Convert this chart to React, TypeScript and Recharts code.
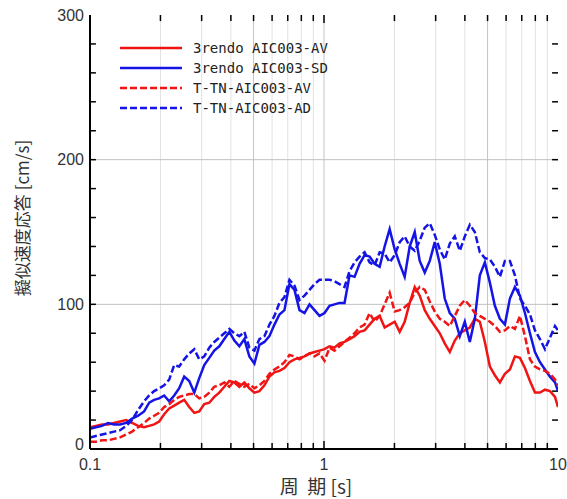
import { LineChart, Line, XAxis, YAxis, ReferenceLine } from "recharts";

const periods = [
  0.1, 0.106, 0.1126, 0.1194, 0.1267, 0.1345, 0.1427, 0.1513, 0.1606, 0.1703,
  0.179, 0.188, 0.1975, 0.2075, 0.218, 0.229, 0.2406, 0.2527, 0.2655, 0.279,
  0.293, 0.3078, 0.3234, 0.3397, 0.3569, 0.375, 0.394, 0.4139, 0.4348, 0.4567,
  0.4798, 0.5041, 0.5296, 0.5564, 0.5845, 0.614, 0.645, 0.6776, 0.7119, 0.7479,
  0.7857, 0.8254, 0.8671, 0.911, 0.957, 1.005, 1.056, 1.109, 1.165, 1.224,
  1.286, 1.351, 1.419, 1.491, 1.566, 1.646, 1.729, 1.816, 1.908, 2.005,
  2.106, 2.212, 2.324, 2.442, 2.565, 2.695, 2.831, 2.974, 3.124, 3.281,
  3.448, 3.622, 3.805, 3.997, 4.199, 4.411, 4.634, 4.869, 5.115, 5.373,
  5.645, 5.93, 6.23, 6.545, 6.876, 7.223, 7.588, 7.972, 8.375, 8.798,
  9.242, 9.71, 10,
];

// 3rendo AIC003-AV (red solid)
const rendoAV = [
  15, 16, 17, 17, 18, 19, 20, 18, 16, 15,
  16, 17, 19, 24, 28, 30, 32, 34, 29, 25,
  26, 31, 32, 36, 39, 43, 47, 46, 43, 46,
  42, 39, 40, 44, 50, 53, 54, 56, 60, 62,
  63, 64, 66, 67, 68, 69, 71, 70, 73, 74,
  76, 78, 81, 82, 86, 90, 92, 84, 86, 88,
  81, 88, 101, 112, 106, 96, 90, 85, 80, 73,
  67, 75, 80, 82, 84, 90, 88, 74, 57, 51,
  46, 52, 55, 64, 63, 56, 47, 39, 39, 41,
  40, 36, 29,
];

// 3rendo AIC003-SD (blue solid)
const rendoSD = [
  14, 15, 16, 18, 17, 17, 18, 21, 23, 26,
  32, 34, 35, 37, 33, 37, 42, 50, 47, 39,
  49, 58, 63, 68, 71, 76, 81, 75, 71, 76,
  64, 59, 72, 74, 78, 86, 93, 96, 114, 110,
  96, 94, 100, 96, 92, 94, 99, 100, 101, 101,
  120, 119, 128, 134, 133, 128, 126, 140, 152, 138,
  128, 119, 140, 150, 130, 122, 130, 143, 128, 104,
  94, 90, 78, 88, 74, 90, 120, 129, 115, 99,
  90, 86, 104, 112, 106, 94, 80, 67, 60, 55,
  50, 46, 40,
];

// T-TN-AIC003-AV (red dashed)
const ttnAV = [
  5, 5, 6, 6, 7, 8, 10, 12, 15, 18,
  21, 23, 25, 29, 31, 34, 36, 37, 38, 38,
  35, 36, 39, 43, 44, 46, 43, 47, 45, 43,
  45, 42, 44, 47, 52, 55, 57, 60, 65, 64,
  62, 64, 66, 64, 66, 61, 70, 68, 71, 74,
  77, 80, 84, 86, 94, 88, 92, 100, 108, 95,
  96, 98, 101, 108, 112, 110, 102, 95, 90, 88,
  85, 92, 99, 103, 99, 94, 92, 90, 88, 85,
  81, 82, 85, 83, 92, 78, 62, 57, 55, 54,
  52, 48, 44,
];

// T-TN-AIC003-AD (blue dashed)
const ttnAD = [
  8, 9, 10, 11, 12, 13, 16, 20, 27, 33,
  37, 40, 42, 44, 48, 58, 57, 62, 66, 69,
  62, 64, 70, 74, 77, 80, 83, 80, 78, 81,
  70, 68, 76, 78, 86, 92, 101, 105, 117, 113,
  103, 106, 110, 114, 117, 117, 117, 116, 114, 112,
  123, 129, 133, 136, 129, 127, 136, 135, 129, 134,
  143, 147, 140, 137, 144, 153, 156, 148, 138, 131,
  142, 147, 137, 147, 155, 150, 136, 132, 131, 126,
  119, 130, 130, 120, 104, 99, 93, 82, 76, 69,
  77, 85, 82,
];

const seriesNames = ["3rendo AIC003-AV", "3rendo AIC003-SD", "T-TN-AIC003-AV", "T-TN-AIC003-AD"];
const seriesKeys = ["rendoAV", "rendoSD", "ttnAV", "ttnAD"];
const seriesColors = ["#f01414", "#1414e6", "#f01414", "#1414e6"];
const seriesDash = ["", "", "7 3", "7 3"];

const xTicks = [0.1, 0.2, 0.3, 0.4, 0.5, 0.6, 0.7, 0.8, 0.9, 1, 2, 3, 4, 5, 6, 7, 8, 9, 10];
const xLabels = [0.1, 1, 10];
const yTicks = [0, 20, 40, 60, 80, 100, 120, 140, 160, 180, 200, 220, 240, 260, 280, 300];
const yLabels = [0, 100, 200, 300];
const xGrid = [0.2, 0.3, 0.4, 0.5, 0.6, 0.7, 0.8, 0.9, 1, 2, 3, 4, 5, 6, 7, 8, 9];
const yGrid = [100, 200];

const data = periods.map((p, i) => ({
  period: p,
  rendoAV: rendoAV[i],
  rendoSD: rendoSD[i],
  ttnAV: ttnAV[i],
  ttnAD: ttnAD[i],
}));

const numFont = "'Liberation Sans', Arial, sans-serif";
const jpFont = "'Noto Sans CJK JP', 'Noto Sans', sans-serif";

const frame = { stroke: "#000", strokeWidth: 2 };

// inward tick marks, drawn as short reference segments (tickLine did not show up)
const X_MIN = 0.1;
const X_MAX = 10;
const Y_MAX = 300;
const yTickLen = 4.2; // about 6px in cm/s
const yTickLenMajor = 5.5;
const xTickStep = 1.06; // about 6px on the log axis
const innerX = xTicks.filter((v) => v > X_MIN && v < X_MAX);
const innerY = yTicks.filter((v) => v > 0 && v < Y_MAX);

function XLabel({ x, y, payload }: any) {
  if (!xLabels.includes(payload.value)) return null;
  return (
    <text x={x} y={y + 15} textAnchor="middle" dominantBaseline="central" fontSize={16} fill="#333" fontFamily={numFont}>
      {payload.value}
    </text>
  );
}

function YLabel({ x, y, payload }: any) {
  if (!yLabels.includes(payload.value)) return null;
  return (
    <text x={x - 6} y={payload.value === 0 ? y - 5 : y} textAnchor="end" dominantBaseline="central" fontSize={16} fill="#333" fontFamily={numFont}>
      {payload.value}
    </text>
  );
}

function Overlay() {
  return (
    <svg width={567} height={499} style={{ position: "absolute", left: 0, top: 0, pointerEvents: "none" }}>
      {seriesNames.map((name, i) => (
        <g key={name}>
          <line
            x1={120}
            x2={182}
            y1={48 + i * 20}
            y2={48 + i * 20}
            stroke={seriesColors[i]}
            strokeWidth={2.5}
            strokeDasharray={seriesDash[i] || undefined}
          />
          <text x={193} y={48 + i * 20} dominantBaseline="central" fontSize={14} fill="#222" fontFamily="'DejaVu Sans Mono', monospace">
            {name}
          </text>
        </g>
      ))}
      <text
        x={21}
        y={218}
        transform="rotate(-90 21 218)"
        textAnchor="middle"
        dominantBaseline="central"
        fontSize={17}
        fill="#333"
        fontFamily={jpFont}
      >
        擬似速度応答 [cm/s]
      </text>
      <text x={316} y={485} textAnchor="middle" dominantBaseline="central" fontSize={19} fill="#333" fontFamily={jpFont} style={{ whiteSpace: "pre" }}>
        周  期 [s]
      </text>
    </svg>
  );
}

export default function App() {
  const tickStyle = { stroke: "#000", strokeWidth: 1.5 };
  return (
    <div style={{ position: "absolute", left: 0, top: 0, width: 567, height: 499, background: "#fff" }}>
      <LineChart width={567} height={499} data={data} margin={{ top: 15, right: 9, bottom: 0, left: 0 }}>
        <XAxis
          dataKey="period"
          type="number"
          scale="log"
          domain={[X_MIN, X_MAX]}
          allowDataOverflow
          ticks={xTicks}
          interval={0}
          height={50}
          tickSize={0}
          tickMargin={0}
          tickLine={false}
          tick={<XLabel />}
          axisLine={frame}
        />
        <XAxis
          xAxisId="top"
          orientation="top"
          dataKey="period"
          type="number"
          scale="log"
          domain={[X_MIN, X_MAX]}
          allowDataOverflow
          ticks={xTicks}
          height={0}
          tickLine={false}
          tick={false}
          axisLine={frame}
        />
        <YAxis
          type="number"
          domain={[0, Y_MAX]}
          ticks={yTicks}
          interval={0}
          width={90}
          tickSize={0}
          tickMargin={0}
          tickLine={false}
          tick={<YLabel />}
          axisLine={frame}
        />
        <YAxis
          yAxisId="right"
          orientation="right"
          type="number"
          domain={[0, Y_MAX]}
          ticks={yTicks}
          width={0}
          tickLine={false}
          tick={false}
          axisLine={frame}
        />
        {xGrid.map((v) => (
          <ReferenceLine key={"x" + v} x={v} stroke={v === 1 || v === 0.5 || v === 5 ? "#c4c4c4" : "#e2e2e2"} strokeWidth={1} />
        ))}
        {yGrid.map((v) => (
          <ReferenceLine key={"y" + v} y={v} stroke="#c0c0c0" strokeWidth={1} />
        ))}
        {innerX.map((v) => (
          <ReferenceLine
            key={"tb" + v}
            segment={[{ x: v, y: 0 }, { x: v, y: v === 1 ? yTickLenMajor : yTickLen }]}
            {...tickStyle}
          />
        ))}
        {innerX.map((v) => (
          <ReferenceLine
            key={"tt" + v}
            segment={[{ x: v, y: Y_MAX }, { x: v, y: Y_MAX - (v === 1 ? yTickLenMajor : yTickLen) }]}
            {...tickStyle}
          />
        ))}
        {innerY.map((v) => (
          <ReferenceLine key={"tl" + v} segment={[{ x: X_MIN, y: v }, { x: X_MIN * xTickStep, y: v }]} {...tickStyle} />
        ))}
        {innerY.map((v) => (
          <ReferenceLine key={"tr" + v} segment={[{ x: X_MAX, y: v }, { x: X_MAX / xTickStep, y: v }]} {...tickStyle} />
        ))}
        {seriesKeys.map((k, i) => (
          <Line
            key={k}
            dataKey={k}
            name={seriesNames[i]}
            stroke={seriesColors[i]}
            strokeWidth={2.5}
            strokeDasharray={seriesDash[i] || undefined}
            dot={false}
            type="linear"
            isAnimationActive={false}
          />
        ))}
      </LineChart>
      <Overlay />
    </div>
  );
}
